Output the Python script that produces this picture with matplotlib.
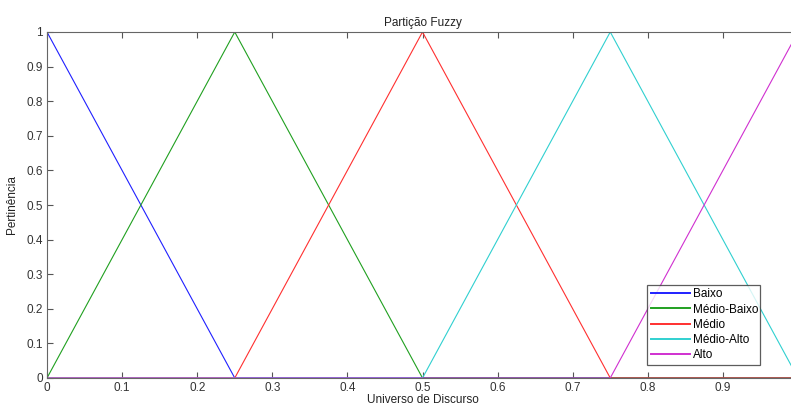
import matplotlib
matplotlib.use("Agg")
import matplotlib.pyplot as plt

plt.rcParams['font.family'] = ['Liberation Sans', 'DejaVu Sans']

names = ["Baixo", "Médio-Baixo", "Médio", "Médio-Alto", "Alto"]
colors = ["#2020ff", "#20a020", "#ff3030", "#30d0d0", "#d030d0"]
xs = [
    [0, 0.25, 1],
    [0, 0.25, 0.5, 1],
    [0, 0.25, 0.5, 0.75, 1],
    [0, 0.5, 0.75, 1],
    [0, 0.75, 1],
]
ys = [
    [1, 0, 0],
    [0, 1, 0, 0],
    [0, 0, 1, 0, 0],
    [0, 0, 1, 0],
    [0, 0, 1],
]
xticks = [0, 0.1, 0.2, 0.3, 0.4, 0.5, 0.6, 0.7, 0.8, 0.9]
yticks = [0, 0.1, 0.2, 0.3, 0.4, 0.5, 0.6, 0.7, 0.8, 0.9, 1]
ytick_labels = ["0", "0.1", "0.2", "0.3", "0.4", "0.5", "0.6", "0.7", "0.8", "0.9", "1"]

W, H = 791, 405
fig = plt.figure(figsize=(W / 100, H / 100), dpi=100)
left, right, top, bottom = 47, 798, 32, 378
ax = fig.add_axes([left / W, 1 - bottom / H, (right - left) / W, (bottom - top) / H])

for x, y, c, n in zip(xs, ys, colors, names):
    ax.plot(x, y, color=c, lw=0.8, label=n)

ax.set_xlim(0, 1)
ax.set_ylim(0, 1)
ax.set_xticks(xticks)
ax.set_xticklabels([("%g" % t) for t in xticks])
ax.set_yticks(yticks)
ax.set_yticklabels(ytick_labels)
ax.tick_params(direction='in', top=True, right=True, length=4, width=0.8,
               labelsize=8.5, colors='#555555', labelcolor='#333333', pad=3)
for s in ax.spines.values():
    s.set_color('#666666')
    s.set_linewidth(0.8)

ax.set_title("Partição Fuzzy", fontsize=8.5, color='#222222', pad=4)
ax.set_xlabel("Universo de Discurso", fontsize=8.5, color='#222222', labelpad=0)
ax.set_ylabel("Pertinência", fontsize=8.5, color='#222222', labelpad=6)

leg = ax.legend(loc='lower left', bbox_to_anchor=(0.799, 0.0376, 0.15, 0.23),
                mode='expand', borderaxespad=0, fontsize=8.5, frameon=True,
                fancybox=False, handlelength=3.3, handletextpad=0.3,
                labelspacing=0.28, borderpad=0.3)
for line in leg.get_lines():
    line.set_linewidth(1.4)
leg.get_frame().set_edgecolor('#333333')
leg.get_frame().set_linewidth(0.9)

fig.savefig("out.png", dpi=100)
